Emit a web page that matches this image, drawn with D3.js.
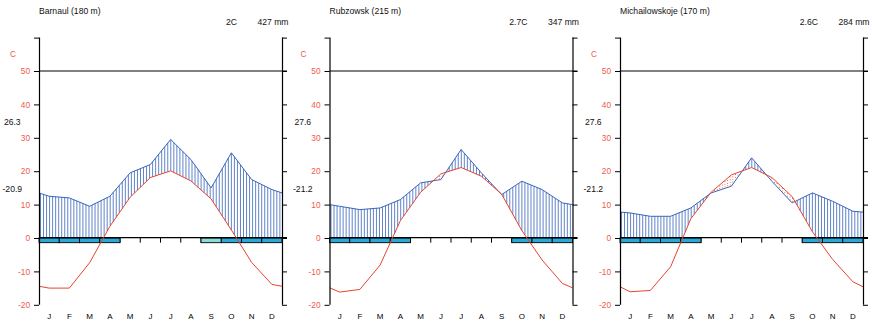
<!DOCTYPE html>
<html>
<head>
<meta charset="utf-8">
<script src="https://cdn.jsdelivr.net/npm/d3@7"></script>
<style>
  body { margin: 0; background: #fff; }
  svg { display: block; font-family: "Liberation Sans", Arial, sans-serif; }
</style>
</head>
<body>
<div id="chart"></div>
<script>
const months = ["J", "F", "M", "A", "M", "J", "J", "A", "S", "O", "N", "D"];

const stationNames = ["Barnaul (180 m)", "Rubzowsk (215 m)", "Michailowskoje (170 m)"];
const meanTempLabels = ["2C", "2.7C", "2.6C"];
const totalPrecipLabels = ["427 mm", "347 mm", "284 mm"];
const absMaxLabels = ["26.3", "27.6", "27.6"];
const absMinLabels = ["-20.9", "-21.2", "-21.2"];

// monthly mean temperature (C) and precipitation (mm)
const barnaulTemp = [-15.0, -15.0, -7.4, 3.5, 12.2, 18.1, 20.1, 17.1, 11.7, 2.4, -7.3, -13.9];
const barnaulPrecip = [25, 24, 19, 25, 39, 44, 59, 47, 30, 51, 35, 29];
const rubzowskTemp = [-16.2, -15.4, -8.1, 5.2, 13.7, 19.2, 21.1, 18.5, 13.1, 2.2, -6.6, -13.6];
const rubzowskPrecip = [19, 17, 18, 23, 33, 35, 53, 39, 26, 34, 29, 21];
const michTemp = [-16.1, -15.7, -8.6, 5.8, 13.7, 18.9, 21.1, 18.1, 12.4, 1.9, -6.4, -13.1];
const michPrecip = [15, 13, 13, 18, 27, 31, 48, 34, 21, 27, 22, 16];

// frost: 0 none, 1 probable, 2 sure
const barnaulFrost = [2, 2, 2, 2, 0, 0, 0, 0, 1, 2, 2, 2];
const rubzowskFrost = [2, 2, 2, 2, 0, 0, 0, 0, 0, 2, 2, 2];
const michFrost = [2, 2, 2, 2, 0, 0, 0, 0, 0, 2, 2, 2];

const stations = [
  { temp: barnaulTemp, precip: barnaulPrecip, frost: barnaulFrost },
  { temp: rubzowskTemp, precip: rubzowskPrecip, frost: rubzowskFrost },
  { temp: michTemp, precip: michPrecip, frost: michFrost },
];

const width = 873, height = 326;
const panelStep = 290.5;
const plotLeft = 39, plotRight = 282;
const red = "#e8432f", labelRed = "#f0594c", blue = "#3865bb";
const frostColors = [null, "#8edcd8", "#2ba8d8"];

const svg = d3.select("#chart").append("svg")
  .attr("width", width)
  .attr("height", height);

const y = d3.scaleLinear().domain([-20, 60]).range([304.8, 37.6]);
// precipitation: 2 mm per degree
const yP = d3.scaleLinear().domain([-40, 120]).range([304.8, 37.6]);
const x = d3.scaleLinear().domain([0, 12]).range([plotLeft, plotRight]);

function drawPanel(g, i) {
  const { temp, precip, frost } = stations[i];
  const pT = precip.map(p => p / 2);

  // wrap around the year at both edges
  const xs = [0, ...months.map((m, k) => k + 0.5), 12].map(x);
  const wrap = arr => [(arr[11] + arr[0]) / 2, ...arr, (arr[11] + arr[0]) / 2];
  const tempAt = d3.scaleLinear().domain(xs).range(wrap(temp)).clamp(true);
  const precAt = d3.scaleLinear().domain(xs).range(wrap(pT)).clamp(true);

  // humid hatching
  const hatchX = d3.range(plotLeft + 1.5, plotRight, 3.03);
  g.append("g")
    .selectAll("line")
    .data(hatchX.filter(px => precAt(px) > Math.max(tempAt(px), 0)))
    .join("line")
    .attr("x1", d => d).attr("x2", d => d)
    .attr("y1", d => y(precAt(d)))
    .attr("y2", d => y(Math.max(tempAt(d), 0)))
    .attr("stroke", blue)
    .attr("stroke-width", 0.8);

  // arid dots
  const dots = [];
  d3.range(plotLeft + 1, plotRight, 2.6).forEach((px, k) => {
    const t = tempAt(px), p = precAt(px);
    if (t <= p) return;
    for (let v = y(t) + 1.2 + (k % 2) * 1.3; v < y(p) - 0.8; v += 2.6) dots.push([px, v]);
  });
  g.append("g")
    .selectAll("circle")
    .data(dots)
    .join("circle")
    .attr("cx", d => d[0]).attr("cy", d => d[1])
    .attr("r", 0.5)
    .attr("fill", red);

  // horizontal line at 50
  g.append("line")
    .attr("x1", plotLeft).attr("x2", plotRight + 5)
    .attr("y1", y(50)).attr("y2", y(50))
    .attr("stroke", "#000").attr("stroke-width", 1);

  // month boundary ticks
  g.append("g")
    .selectAll("line")
    .data(d3.range(1, 12))
    .join("line")
    .attr("x1", d => x(d)).attr("x2", d => x(d))
    .attr("y1", y(0)).attr("y2", y(-1.4))
    .attr("stroke", "#000");

  // frost boxes
  g.append("g")
    .selectAll("rect")
    .data(frost.map((f, k) => ({ f, k })).filter(d => d.f > 0))
    .join("rect")
    .attr("x", d => x(d.k))
    .attr("width", d => x(d.k + 1) - x(d.k))
    .attr("y", y(0))
    .attr("height", y(-1.4) - y(0))
    .attr("fill", d => frostColors[d.f])
    .attr("stroke", "#000")
    .attr("stroke-width", 0.9);

  // zero line
  g.append("line")
    .attr("x1", plotLeft).attr("x2", plotRight + 5)
    .attr("y1", y(0) - 0.3).attr("y2", y(0) - 0.3)
    .attr("stroke", "#000").attr("stroke-width", 1.3);

  // curves
  const line = d3.line();
  g.append("path")
    .attr("d", line(xs.map(px => [px, y(precAt(px))])))
    .attr("fill", "none").attr("stroke", blue).attr("stroke-width", 1);
  g.append("path")
    .attr("d", line(xs.map(px => [px, y(tempAt(px))])))
    .attr("fill", "none").attr("stroke", red).attr("stroke-width", 1);

  // axes
  const tickVals = d3.range(-20, 61, 10);
  const left = g.append("g")
    .attr("transform", `translate(${plotLeft},0)`)
    .call(d3.axisLeft(y).tickValues(tickVals).tickSize(5).tickPadding(4)
      .tickFormat(d => d === 60 ? "" : d));
  left.select(".domain").attr("d", `M0.5,${y(60)}V${y(-20)}`).attr("stroke-width", 1.2);
  left.selectAll("text").attr("fill", labelRed).attr("font-size", 8.3)
    .attr("font-family", "Liberation Sans, Arial, sans-serif");

  const right = g.append("g")
    .attr("transform", `translate(${plotRight},0)`)
    .call(d3.axisRight(yP).tickValues(d3.range(-40, 121, 20)).tickSize(5).tickFormat(""));
  right.select(".domain").attr("d", `M0.5,${y(60)}V${y(-20)}`).attr("stroke-width", 1.2);

  g.append("text")
    .attr("x", 13).attr("y", y(55) + 3)
    .attr("text-anchor", "middle")
    .attr("font-size", 8.3).attr("fill", labelRed)
    .text("C");

  // month labels
  g.append("g")
    .selectAll("text")
    .data(months)
    .join("text")
    .attr("x", (d, k) => x(k + 0.5))
    .attr("y", 319)
    .attr("text-anchor", "middle")
    .attr("font-size", 8)
    .attr("fill", "#000")
    .text(d => d);

  // station texts
  g.append("text").attr("x", plotLeft).attr("y", 14.3)
    .attr("font-size", 8.6).attr("fill", "#111").text(stationNames[i]);
  g.append("text").attr("x", 237).attr("y", 25).attr("text-anchor", "end")
    .attr("font-size", 8.6).attr("fill", "#111").text(meanTempLabels[i]);
  g.append("text").attr("x", 288.5).attr("y", 25).attr("text-anchor", "end")
    .attr("font-size", 8.6).attr("fill", "#111").text(totalPrecipLabels[i]);
  g.append("text").attr("x", 12.3).attr("y", 125).attr("text-anchor", "middle")
    .attr("font-size", 8.6).attr("fill", "#111").text(absMaxLabels[i]);
  g.append("text").attr("x", 12.3).attr("y", 192).attr("text-anchor", "middle")
    .attr("font-size", 8.6).attr("fill", "#111").text(absMinLabels[i]);
}

stations.forEach((s, i) => {
  const g = svg.append("g").attr("transform", `translate(${i * panelStep},0)`);
  drawPanel(g, i);
});
</script>
</body>
</html>
